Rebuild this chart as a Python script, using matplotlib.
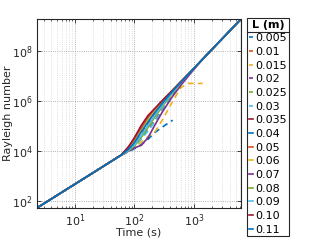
import numpy as np
import matplotlib
matplotlib.use('Agg')
import matplotlib.pyplot as plt
from matplotlib.lines import Line2D
from matplotlib.ticker import LogLocator, NullLocator, NullFormatter

# lengths shown in the legend
L_labels = ['0.005', '0.01', '0.015', '0.02', '0.025', '0.03', '0.035', '0.04',
            '0.05', '0.06', '0.07', '0.08', '0.09', '0.10', '0.11']

# shared early (conductive) part
t_early = [2.3, 5, 10, 20, 40, 60]
ra_early = [52, 167, 471, 1330, 3770, 6930]

# later times and the common late trend that most curves follow
t_late = [80, 100, 130, 170, 220, 300, 440, 600, 800, 1000, 1400, 2000, 3000, 4500, 6200]
ra_trend = [np.nan, np.nan, np.nan, np.nan, np.nan, 1.03e6, 2.69e6, 5.85e6, 1.2e7,
            2.1e7, 4.87e7, 1.19e8, 3.27e8, 9.0e8, 2.0e9]

# per-curve values after t=60 (until they join the trend)
ra_after = [
    [9.5e3, 1.25e4, 1.8e4, 3.0e4, 5.5e4, 9.5e4, 1.74e5],                     # 0.005
    [1.15e4, 2.0e4, 5.0e4, 1.3e5, 3.1e5, 8.2e5, 2.5e6, 5.8e6],               # 0.01
    [1.0e4, 1.4e4, 2.3e4, 3.8e4, 5.8e4, 1.9e5, 1.0e6, 3.5e6, 5.2e6, 5.2e6, 5.2e6],  # 0.015
    [1.05e4, 1.7e4, 3.6e4, 7.5e4, 1.7e5, 5.0e5, 1.9e6, 5.2e6],               # 0.02
    [1.1e4, 1.8e4, 3.5e4, 7.0e4, 1.6e5, 4.5e5, 1.8e6, 5.0e6],                # 0.025
    [1.05e4, 1.5e4, 3.0e4, 6.5e4, 1.5e5, 4.8e5, 2.0e6, 5.3e6],               # 0.03
    [1.5e4, 3.3e4, 1.0e5, 2.6e5, 5.0e5, 1.1e6, 2.8e6, 6.0e6],                # 0.035
    [1.3e4, 2.6e4, 7.5e4, 2.0e5, 4.2e5, 9.8e5, 2.7e6, 5.9e6],                # 0.04
    [1.45e4, 3.1e4, 9.0e4, 2.4e5, 4.8e5, 1.08e6, 2.8e6, 6.0e6],              # 0.05
    [1.25e4, 2.4e4, 6.5e4, 1.8e5, 4.0e5, 9.5e5, 2.7e6, 5.9e6],               # 0.06
    [1.0e4, 1.35e4, 1.7e4, 3.5e4, 1.1e5, 4.0e5, 1.6e6, 4.3e6, 1.0e7, 1.9e7], # 0.07
    [1.05e4, 1.6e4, 3.5e4, 9.0e4, 2.3e5, 6.5e5, 2.2e6, 5.5e6],               # 0.08
    [1.1e4, 1.8e4, 4.2e4, 1.1e5, 2.7e5, 7.5e5, 2.4e6, 5.7e6],                # 0.09
    [1.5e4, 3.4e4, 1.05e5, 2.7e5, 5.1e5, 1.12e6, 2.8e6, 6.0e6],              # 0.10
    [1.2e4, 2.2e4, 5.8e4, 1.5e5, 3.5e5, 8.8e5, 2.6e6, 5.8e6],                # 0.11
]
joins_trend = [False, True, False, True, True, True, True, True,
               True, True, True, True, True, True, True]
dashed = [True, True, True, True, True, True, False, False,
          False, False, False, False, False, False, False]

colors = ['#0072BD', '#D95319', '#EDB120', '#7E2F8E', '#77AC30', '#4DBEEE', '#A2142F']

fig = plt.figure(figsize=(3.21, 2.41), dpi=100)
ax = fig.add_axes([0.115, 0.137, 0.636, 0.784])

for i, lab in enumerate(L_labels):
    vals = list(ra_after[i])
    if joins_trend[i]:
        vals = vals + ra_trend[len(vals):]
    t = t_early + t_late[:len(vals)]
    ra = ra_early + vals
    ax.plot(t, ra, color=colors[i % 7], lw=1.2,
            ls=(0, (3.5, 2.5)) if dashed[i] else '-', label=lab)

ax.set_xscale('log')
ax.set_yscale('log')
ax.set_xlim(2.3, 6200)
ax.set_ylim(52, 2.0e9)

ax.xaxis.set_major_locator(LogLocator(base=10, numticks=10))
ax.xaxis.set_minor_locator(LogLocator(base=10, subs=np.arange(2, 10), numticks=20))
ax.xaxis.set_minor_formatter(NullFormatter())
ax.set_yticks([1e2, 1e4, 1e6, 1e8])
ax.yaxis.set_minor_locator(NullLocator())

ax.grid(True, which='major', ls=':', lw=0.6, color='#999999')
ax.grid(True, which='minor', axis='x', ls=':', lw=0.5, color='#cccccc')
ax.set_axisbelow(True)

ax.tick_params(which='both', direction='in', top=True, right=True,
               labelsize=8, colors='#262626', pad=3)
ax.tick_params(which='major', length=3, width=0.6)
ax.tick_params(which='minor', length=1.5, width=0.5)
for s in ax.spines.values():
    s.set_color('#262626')
    s.set_linewidth(0.8)

ax.set_xlabel('Time (s)', fontsize=8, color='#262626', labelpad=-1)
ax.set_ylabel('Rayleigh number', fontsize=8, color='#262626', labelpad=-1)

leg = ax.legend(loc='upper left', bbox_to_anchor=(247 / 321, 1 - 18 / 241),
                bbox_transform=fig.transFigure, fontsize=8, title='L (m)',
                title_fontproperties={'weight': 'bold', 'size': 8},
                handlelength=0.4, handletextpad=0.2, labelspacing=0.33,
                borderpad=0.15, borderaxespad=0, frameon=True, fancybox=False,
                edgecolor='#262626', framealpha=1)
leg.get_frame().set_linewidth(0.8)

# separator line under the legend title
fig.canvas.draw()
inv = fig.transFigure.inverted()
fb = leg.get_frame().get_window_extent()
tb = leg.get_title().get_window_extent()
x0, _ = inv.transform((fb.x0, 0))
x1, _ = inv.transform((fb.x1, 0))
_, ysep = inv.transform((0, tb.y0 - 2))
fig.add_artist(Line2D([x0, x1], [ysep, ysep], transform=fig.transFigure,
                      color='#262626', lw=0.8))

fig.savefig('out.png', dpi=100)
